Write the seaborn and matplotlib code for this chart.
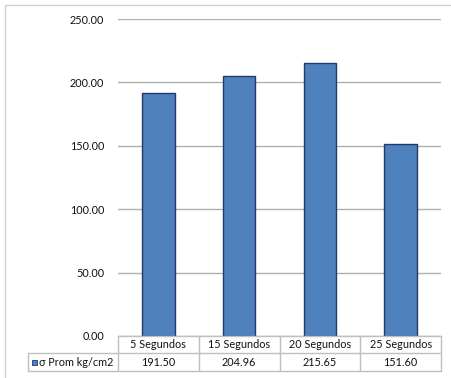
import numpy as np
import pandas as pd
import seaborn as sns
import matplotlib.pyplot as plt
from matplotlib.transforms import blended_transform_factory
from matplotlib.patches import Rectangle
from matplotlib.lines import Line2D

# Données du graphique
categorias = ["5 Segundos", "15 Segundos", "20 Segundos", "25 Segundos"]
valores = [191.50, 204.96, 215.65, 151.60]
serie = "σ Prom kg/cm2"
ticks_y = [0, 50, 100, 150, 200, 250]

df = pd.DataFrame({"Tiempo": categorias, "Valor": valores})

sns.set_style("white")
plt.rcParams['font.family'] = ['Lato', 'DejaVu Sans']

W, H = 451, 378
fig = plt.figure(figsize=(W / 100, H / 100), dpi=100)

def fx(px):
    return px / W

def fy(py):
    return 1 - py / H

ax = fig.add_axes([fx(118), fy(336), fx(441) - fx(118), fy(19) - fy(336)])

sns.barplot(data=df, x="Tiempo", y="Valor", ax=ax, color="#4F81BD",
            width=0.4, edgecolor="#1F3A6B", linewidth=1.0, saturation=1)

ax.set_ylim(0, 250)
ax.set_xlim(-0.5, len(categorias) - 0.5)
ax.set_yticks(ticks_y)
ax.set_yticklabels([f"{t:.2f}" for t in ticks_y], fontsize=7.8, color="#111111")
ax.tick_params(axis='y', length=0, pad=10)
ax.set_xticks([])
ax.set_xlabel("")
ax.set_ylabel("")
for s in ax.spines.values():
    s.set_visible(False)
ax.yaxis.grid(True, color="#AFAFAF", linewidth=1.0)
ax.set_axisbelow(True)

# Tableau de données sous le graphique
tr = blended_transform_factory(ax.transData, fig.transFigure)
lc = "#BFBFBF"
y_top, y_mid, y_bot = fy(336), fy(353), fy(371)
x0, x1 = -0.5, len(categorias) - 0.5

for yy in [y_top, y_mid]:
    fig.add_artist(Line2D([x0, x1], [yy, yy], transform=tr, color=lc, lw=1))
fig.add_artist(Line2D([fx(28), fx(441)], [y_bot, y_bot], transform=fig.transFigure, color=lc, lw=1))
fig.add_artist(Line2D([fx(28), fx(118)], [y_mid, y_mid], transform=fig.transFigure, color=lc, lw=1))
fig.add_artist(Line2D([fx(28), fx(28)], [y_mid, y_bot], transform=fig.transFigure, color=lc, lw=1))
for i in range(len(categorias) + 1):
    xx = i - 0.5
    fig.add_artist(Line2D([xx, xx], [y_top, y_bot], transform=tr, color=lc, lw=1))

for i, (c, v) in enumerate(zip(categorias, valores)):
    fig.text(i, (y_top + y_mid) / 2, c, transform=tr, ha="center", va="center",
             fontsize=7.8, color="#111111")
    fig.text(i, (y_mid + y_bot) / 2, f"{v:.2f}", transform=tr, ha="center", va="center",
             fontsize=7.8, color="#111111")

fig.add_artist(Rectangle((fx(32), fy(365)), fx(5), fy(360) - fy(365), transform=fig.transFigure,
                         facecolor="#4F81BD", edgecolor="#1F3A6B", lw=0.6))
fig.text(fx(39), (y_mid + y_bot) / 2, serie, ha="left", va="center", fontsize=7.8, color="#111111")

# Cadre extérieur
fig.add_artist(Rectangle((fx(5), fy(385)), fx(460) - fx(5), fy(5) - fy(385), transform=fig.transFigure,
                         facecolor="none", edgecolor="#D0D0D0", lw=1))

fig.savefig("out.png", dpi=100)
